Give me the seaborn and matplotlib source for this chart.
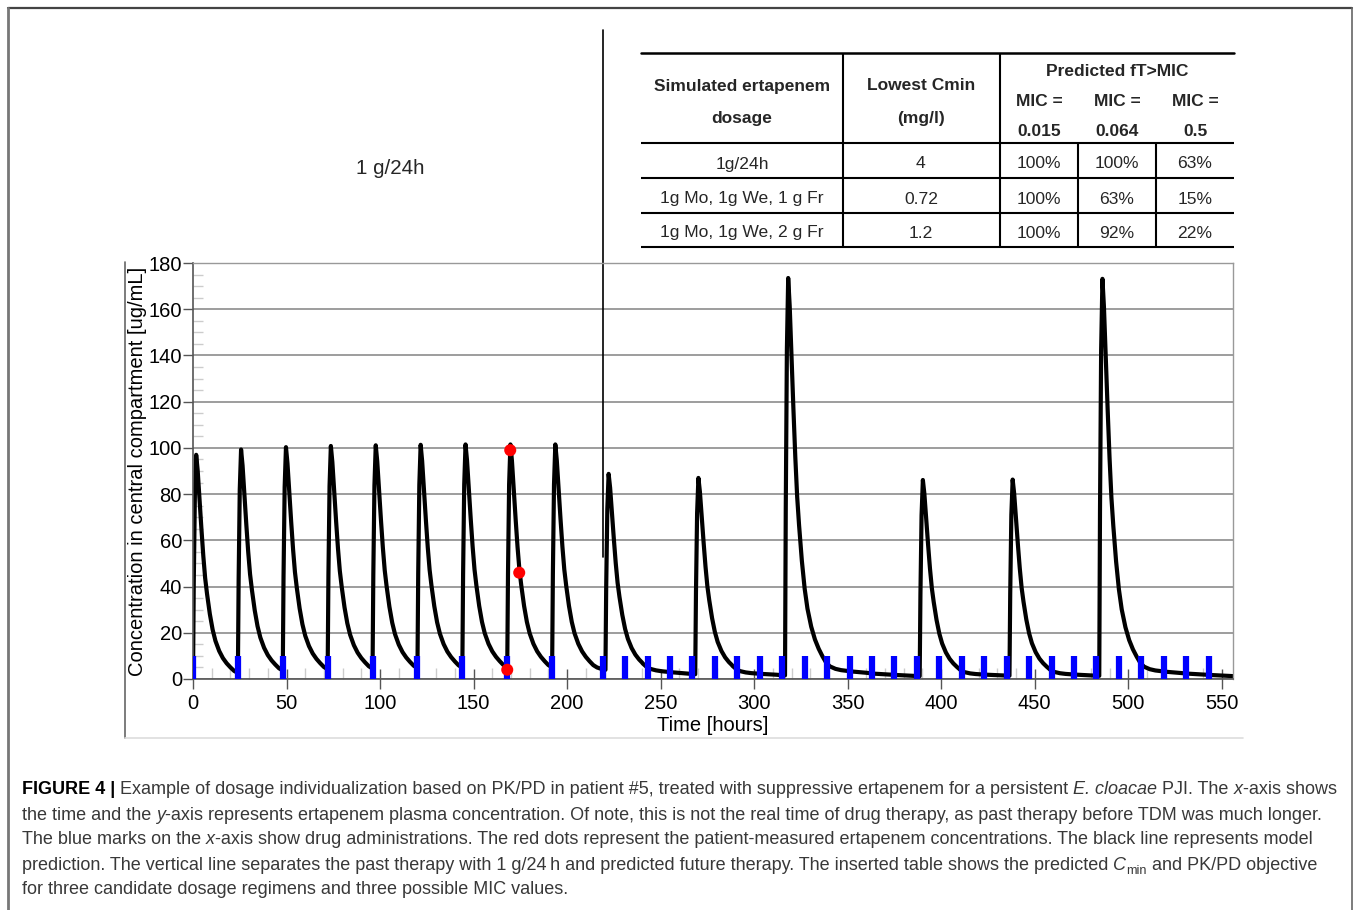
import numpy as np
import pandas as pd
import matplotlib
matplotlib.use('Agg')
import matplotlib.pyplot as plt
import seaborn as sns
from matplotlib.ticker import MultipleLocator

### Données ###

# administrations passées (1 g/24h) et pic apporté par chaque dose (mg/L)
past_doses = [0, 24, 48, 72, 96, 120, 144, 168, 192]
past_peaks = [97, 97, 97, 97, 97, 97, 97, 97, 97]

# thérapie future : Lu / Me / Ve (1 g, 1 g, 2 g)
future_doses = [220.5, 268.5, 316.5, 388.5, 436.5, 484.5]
future_peaks = [85, 85, 172, 85, 85, 172]

# marques bleues après la ligne verticale (toutes les 12 h)
future_marks = [219, 231, 243, 255, 267, 279, 291, 303, 315, 327, 339, 351, 363, 375,
                387, 399, 411, 423, 435, 447, 459, 471, 483, 495, 507, 519, 531, 543]

# forme d'une dose : fraction du pic en fonction des heures après la dose
shape_dt = [0, 0.4, 1.0, 1.7, 2.5, 3.5, 4.5, 5.5, 6.5, 7.5, 9, 10.5, 12, 14, 16, 18,
            20, 22, 24, 27, 30, 36, 42, 48, 60, 72, 96, 168]
shape_frac = [0, 0.42, 0.82, 1.0, 0.93, 0.80, 0.67, 0.55, 0.45, 0.38, 0.29, 0.22, 0.17,
              0.125, 0.093, 0.07, 0.052, 0.036, 0.027, 0.021, 0.018, 0.015, 0.013,
              0.011, 0.008, 0.0055, 0.003, 0.001]

# concentrations mesurées chez le patient (points rouges)
meas_time = [168, 169.6, 174.4]
meas_conc = [4.0, 99, 46]

end_time = 556

# tableau inséré
regimens = ['1g/24h', '1g Mo, 1g We, 1 g Fr', '1g Mo, 1g We, 2 g Fr']
cmin = ['4', '0.72', '1.2']
mic_values = ['0.015', '0.064', '0.5']
ft_mic = [['100%', '100%', '63%'],
          ['100%', '63%', '15%'],
          ['100%', '92%', '22%']]


### Courbe du modèle (superposition des doses) ###

doses = past_doses + future_doses
peaks = past_peaks + future_peaks
t = np.unique(np.concatenate([np.array(shape_dt) + d for d in doses] + [[end_time]]))
t = t[t <= end_time]
conc = np.zeros_like(t)
for d, p in zip(doses, peaks):
    conc += p * np.interp(t - d, shape_dt, shape_frac, left=0, right=0)
curve = pd.DataFrame({'time': t, 'conc': conc})
meas = pd.DataFrame({'time': meas_time, 'conc': meas_conc})


### Figure ###

sns.set_theme(style='white')
plt.rcParams['font.family'] = ['Liberation Sans', 'DejaVu Sans']

W, H = 1358, 910
fig = plt.figure(figsize=(W / 100, H / 100), dpi=100)
fig.patch.set_facecolor('white')

ax = fig.add_axes([193 / W, 1 - 679 / H, (1233 - 193) / W, (679 - 263) / H])

sns.lineplot(data=curve, x='time', y='conc', color='black', lw=3.0,
             estimator=None, sort=False, ax=ax, zorder=2)
ax.vlines(past_doses + future_marks, 0, 10, colors='#0000ff', lw=4.5, zorder=3)
sns.scatterplot(data=meas, x='time', y='conc', color='#ff0000', s=75,
                edgecolor='none', ax=ax, zorder=4)

ax.set_xlim(0, end_time)
ax.set_ylim(0, 180)
ax.xaxis.set_major_locator(MultipleLocator(50))
ax.xaxis.set_minor_locator(MultipleLocator(10))
ax.yaxis.set_major_locator(MultipleLocator(20))
ax.yaxis.set_minor_locator(MultipleLocator(5))

ax.tick_params(axis='x', which='major', direction='inout', length=14, width=1,
               color='#555555', labelsize=14.5, pad=4, labelcolor='black')
ax.tick_params(axis='x', which='minor', direction='in', length=8, width=1,
               color='#cccccc')
ax.tick_params(axis='y', which='major', direction='out', length=7, width=1,
               color='#555555', labelsize=14.5, pad=1, labelcolor='black')
ax.tick_params(axis='y', which='minor', direction='in', length=7, width=1,
               color='#cccccc')
ax.tick_params(bottom=True, left=True, which='both')

ax.yaxis.grid(True, color='#8c8c8c', lw=1.2)
ax.xaxis.grid(False)
ax.set_axisbelow(True)

for side in ['left', 'bottom']:
    ax.spines[side].set_color('#555555')
    ax.spines[side].set_linewidth(1.2)
for side in ['top', 'right']:
    ax.spines[side].set_color('#999999')
    ax.spines[side].set_linewidth(1.0)

ax.set_xlabel('Time [hours]', fontsize=14.5, labelpad=2, color='black')
ax.set_ylabel('Concentration in central compartment [ug/mL]', fontsize=14.5,
              labelpad=1, color='black')

# ligne verticale : passé / futur
ax.axvline(future_marks[0], ymin=(679 - 557) / 416, ymax=(679 - 30) / 416,
           color='black', lw=1.2, clip_on=False, zorder=1)


### Calque en pixels pour le tableau, les cadres et la légende ###

ov = fig.add_axes([0, 0, 1, 1], zorder=-1)
ov.set_xlim(0, W)
ov.set_ylim(H, 0)
ov.axis('off')
ov.patch.set_visible(False)

# cadres
ov.plot([8, 1352], [8, 8], color='#444444', lw=1.6)
ov.plot([8, 8], [8, H], color='#777777', lw=2.0)
ov.plot([1352, 1352], [8, H], color='#666666', lw=1.2)
ov.plot([125, 125], [262, 738], color='#666666', lw=1.2)
ov.plot([125, 1243], [738, 738], color='#dddddd', lw=1.2)

ov.text(390, 168, '1 g/24h', ha='center', va='center', fontsize=14.8)

# tableau
tk = dict(color='black', lw=1.5, solid_capstyle='butt')
ov.plot([641, 1234], [53, 53], color='black', lw=1.8)
for y in [143, 178, 213, 247]:
    ov.plot([641, 1234], [y, y], **tk)
for x in [843, 1000]:
    ov.plot([x, x], [53, 247], **tk)
for x in [1078, 1156]:
    ov.plot([x, x], [143, 247], **tk)

hb = dict(ha='center', va='center', fontsize=12.5, fontweight='bold')
ov.text(742, 86, 'Simulated ertapenem', **hb)
ov.text(742, 118, 'dosage', **hb)
ov.text(921, 86, 'Lowest Cmin', **hb)
ov.text(921, 118, '(mg/l)', **hb)
ov.text(1117, 72, 'Predicted fT>MIC', **hb)
col_x = [1039, 1117, 1195]
for x, m in zip(col_x, mic_values):
    ov.text(x, 101, 'MIC =', **hb)
    ov.text(x, 132, m, **hb)

cell = dict(ha='center', va='center', fontsize=12.6)
for y, reg, c, row in zip([164, 199, 233], regimens, cmin, ft_mic):
    ov.text(742, y, reg, **cell)
    ov.text(921, y, c, **cell)
    for x, v in zip(col_x, row):
        ov.text(x, y, v, **cell)


### Légende de la figure ###

cap_font = ['Liberation Sans', 'DejaVu Sans']
cap_size = 12.95
cap_col = '#383838'

caption = [
    [('FIGURE 4 |', 'b'), (' Example of dosage individualization based on PK/PD in patient #5, '
     'treated with suppressive ertapenem for a persistent ', 'n'), ('E. cloacae', 'i'),
     (' PJI. The ', 'n'), ('x', 'i'), ('-axis shows', 'n')],
    [('the time and the ', 'n'), ('y', 'i'), ('-axis represents ertapenem plasma concentration. '
     'Of note, this is not the real time of drug therapy, as past therapy before TDM was much longer.', 'n')],
    [('The blue marks on the ', 'n'), ('x', 'i'), ('-axis show drug administrations. The red dots '
     'represent the patient-measured ertapenem concentrations. The black line represents model', 'n')],
    [('prediction. The vertical line separates the past therapy with 1 g/24\u2009h and predicted '
      'future therapy. The inserted table shows the predicted ', 'n'), ('C', 'i'), ('min', 'sub'),
     (' and PK/PD objective', 'n')],
    [('for three candidate dosage regimens and three possible MIC values.', 'n')],
]

for k, line in enumerate(caption):
    y = 790 + 25 * k
    prev = None
    base = None
    for txt, st in line:
        kw = dict(family=cap_font, fontsize=cap_size, color=cap_col)
        if st == 'b':
            kw.update(fontweight='bold', color='black')
        if st == 'i':
            kw.update(style='italic')
        if prev is None:
            a = ov.text(22, y, txt, ha='left', va='center', **kw)
            base = a
        elif st == 'sub':
            kw.update(fontsize=cap_size * 0.7)
            a = ov.annotate(txt, xy=(1, 0), xycoords=prev, xytext=(0, -2.5),
                            textcoords='offset points', ha='left', va='bottom', **kw)
        else:
            a = ov.annotate(txt, xy=(1, 0), xycoords=(prev, base), ha='left',
                            va='bottom', **kw)
        if st != 'sub':
            base = a
        prev = a

fig.savefig('out.png', dpi=100, facecolor='white')
